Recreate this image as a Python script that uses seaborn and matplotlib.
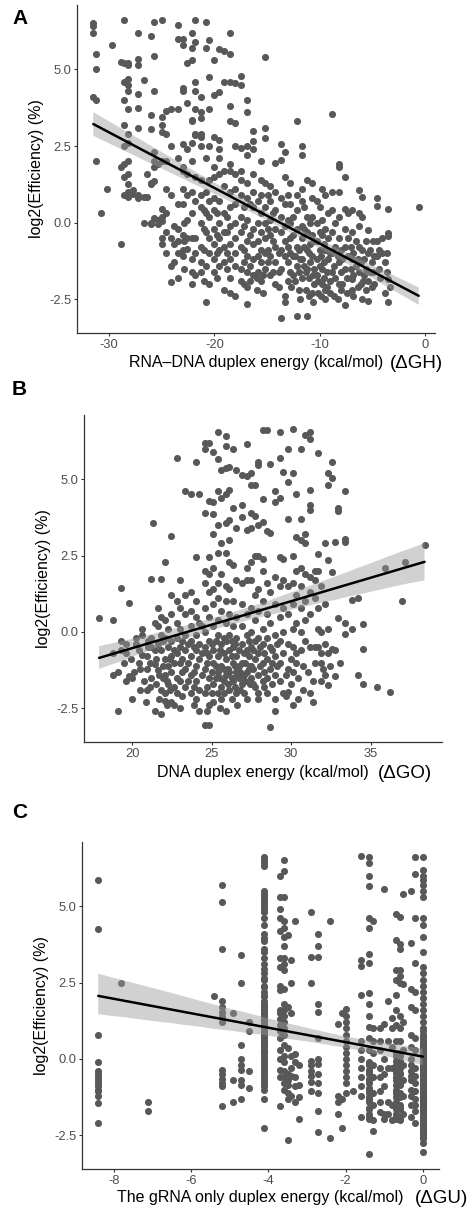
import matplotlib
matplotlib.use("Agg")
import matplotlib.pyplot as plt
from matplotlib.collections import PolyCollection
import seaborn as sns
import pandas as pd

# ---------------- data ----------------
A_groups = [
    (-31.5, [6.5, 6.4, 6.2, 4.1]),
    (-31.2, [5.5, 5.0, 4.0, 2.0]),
    (-30.8, [0.3]),
    (-30.2, [1.1]),
    (-29.7, [5.8]),
    (-28.9, [-0.7, 1.8, 5.25]),
    (-28.6, [6.6, 5.2, 4.6, 4.0, 3.2, 2.5, 1.9, 1.5, 0.9]),
    (-28.2, [5.2, 5.15, 4.7, 4.5, 4.3, 3.7, 2.9, 2.6, 2.0, 1.6, 1.25, 1.0, 0.85]),
    (-27.7, [1.05, 0.95]),
    (-27.3, [6.2, 5.35, 5.15, 4.2, 3.75, 3.1, 0.9, 0.8]),
    (-26.7, [4.65, 0.85, 0.0]),
    (-26.4, [1.6, 0.85]),
    (-26.0, [6.1, 3.5, 3.05, 1.3, 1.25, 0.0, -0.05]),
    (-25.7, [6.55, 5.45, 4.3, 2.3, 2.0, 1.8, 1.35, 0.15]),
    (-25.4, [1.9, 0.1, -0.05]),
    (-25.0, [6.6, 3.45, 3.2, 2.95, 2.0, 0.45, 0.2, 0.05, -0.5, -0.7]),
    (-24.6, [3.65, 2.9, 2.0, 1.1, 0.3, -0.3, -1.0]),
    (-24.1, [3.7, 2.5, 0.9, -0.5, -1.4, -1.95]),
    (-23.8, [-0.1, -0.7, -1.3]),
    (-23.5, [6.45, 6.0, 3.7, 2.1, 0.6, -0.2, -0.6, -1.0, -1.8]),
    (-23.0, [6.0, 5.8, 4.4, 4.3, 2.55, 1.8, 1.7, 1.1, 0.6, -0.4, -0.9, -1.1]),
    (-22.9, [0.0, -0.6, -1.5]),
    (-22.6, [5.2, 3.9, 2.4, 1.6, 0.9, 0.1, -0.5, -0.85]),
    (-22.1, [6.2, 5.7, 5.3, 3.35, 3.3, 2.6, 2.0, 1.0, 0.3, -0.5, -1.2, -1.6, -2.0]),
    (-21.8, [6.6, 5.9, 4.6, 4.3, 3.7, 2.9, 2.85, 1.5, 0.7, -0.5, -1.0, -1.7]),
    (-21.3, [4.1, 3.6, 3.4, 2.9, 2.8, 2.5, 1.4, 0.9, 0.5, 0.0, -0.8, -1.3, -1.6]),
    (-21.0, [0.4, -0.2, -0.9, -1.9]),
    (-20.8, [6.55, 5.7, 2.1, 1.0, 0.3, -0.3, -1.4, -2.6]),
    (-20.5, [5.95, 4.75, 3.7, 2.5, 1.4, 0.7, 0.2, -0.5, -1.0, -2.0]),
    (-20.0, [5.3, 4.15, 2.8, 1.8, 1.5, 0.8, 0.4, -0.2, -0.7, -1.2, -1.6]),
    (-19.8, [0.3, -0.4, -1.0, -1.8]),
    (-19.6, [5.65, 4.25, 2.7, 2.4, 2.1, 1.6, 0.7, 0.0, -0.5, -0.9, -1.4]),
    (-19.1, [5.6, 4.6, 1.7, 1.2, 0.3, -0.3, -0.8, -1.3, -2.2]),
    (-18.8, [0.2, -0.3, -1.0, -1.5]),
    (-18.5, [6.2, 5.5, 4.6, 3.8, 3.3, 1.9, 1.7, 1.0, 0.5, -0.1, -0.7, -1.2, -1.8, -2.3]),
    (-18.0, [4.55, 3.25, 2.5, 1.6, 1.1, 0.6, 0.0, -0.5, -1.0, -1.4, -2.4]),
    (-17.5, [4.8, 4.5, 2.45, 1.7, 1.4, 0.9, 0.2, -0.3, -0.8, -1.5, -1.9]),
    (-17.2, [0.5, -0.1, -0.9, -1.3, -2.0]),
    (-16.9, [4.0, 3.6, 2.5, 2.2, 1.3, 0.8, 0.1, -0.6, -1.1, -1.6, -2.1, -2.65]),
    (-16.6, [0.6, -0.4, -1.4, -1.9]),
    (-16.3, [3.0, 2.65, 2.4, 1.6, 1.0, 0.5, -0.2, -0.7, -1.2, -1.7]),
    (-16.0, [-1.8, -2.2]),
    (-15.9, [0.7, 0.0, -0.6, -1.1, -1.6]),
    (-15.6, [2.0, 1.4, 0.9, 0.3, -0.3, -0.9, -1.3, -1.9]),
    (-15.4, [-1.7, -2.3]),
    (-15.2, [5.4, 3.1, 2.75, 1.3, 0.5, 0.0, -0.5, -1.0, -1.5]),
    (-14.9, [0.9, -0.2, -0.9, -1.3]),
    (-14.7, [1.2, 0.7, 0.1, -0.4, -1.1, -1.7]),
    (-14.4, [0.3, -0.6, -1.6]),
    (-14.2, [1.95, 1.0, 0.4, -0.2, -0.8, -1.3, -2.0]),
    (-13.9, [-1.0, -1.6, -2.1]),
    (-13.7, [2.55, 2.05, 0.8, 0.2, -0.3, -0.9, -1.5, -3.1]),
    (-13.3, [2.3, 1.5, 0.6, -0.1, -0.6, -1.1, -2.4, -2.6]),
    (-13.0, [0.9, 0.1, -0.8, -1.3, -1.9]),
    (-12.8, [1.3, 0.6, 0.0, -0.5, -1.0, -1.6]),
    (-12.7, [-2.1]),
    (-12.5, [0.2, -0.4, -1.1, -1.7]),
    (-12.3, [-1.1, -1.9]),
    (-12.2, [3.3, 0.9, 0.4, -0.2, -0.8, -1.4, -3.05]),
    (-12.0, [-0.9, -1.6, -2.2]),
    (-11.9, [-1.2, -2.5]),
    (-11.7, [2.5, 2.2, 1.1, 0.7, -0.1, -0.5, -1.2, -1.8]),
    (-11.5, [0.5, -0.2, -0.8, -1.4]),
    (-11.3, [-1.6, -2.2]),
    (-11.2, [1.4, 0.2, -0.3, -0.9, -1.5, -3.05]),
    (-11.0, [-1.0, -1.8, -2.4]),
    (-10.9, [0.0, -0.7, -1.3]),
    (-10.7, [1.3, 0.8, 0.2, -0.4, -1.1, -2.3]),
    (-10.6, [-1.7, -2.6]),
    (-10.5, [-0.6, -1.5, -2.0]),
    (-10.3, [0.7, 0.0, -0.6, -1.2, -1.7]),
    (-10.2, [-1.9, -2.3]),
    (-10.0, [0.5, -0.3, -0.9, -1.4]),
    (-9.9, [-1.1, -2.4]),
    (-9.8, [1.1, 0.1, -0.4, -1.5, -2.0]),
    (-9.6, [-0.7, -1.3, -1.8]),
    (-9.5, [0.9, -0.2, -0.9, -2.2, -2.5]),
    (-9.3, [-1.6, -2.1]),
    (-9.2, [0.3, -0.5, -1.2]),
    (-9.0, [-1.0, -1.9, -2.3]),
    (-8.8, [3.55, 1.0, 0.4, -0.3, -1.0, -1.6]),
    (-8.6, [-1.4, -2.4]),
    (-8.5, [0.0, -0.8, -1.8]),
    (-8.3, [-1.1, -2.5]),
    (-8.2, [1.9, 1.8, 1.0, 0.2, -0.5, -1.3, -2.0]),
    (-8.0, [-0.9, -1.6, -2.2]),
    (-7.9, [-1.2, -2.0]),
    (-7.6, [1.5, 0.45, -0.2, -0.8, -1.5, -2.7]),
    (-7.4, [-1.8, -2.3]),
    (-7.3, [0.3, -0.5, -1.1]),
    (-7.0, [-0.8, -1.5]),
    (-6.9, [0.4, -0.3, -1.2, -1.85, -2.2]),
    (-6.8, [-1.0, -1.7, -2.4]),
    (-6.6, [-0.6, -1.4]),
    (-6.4, [-1.2, -2.1]),
    (-6.3, [1.05, 0.3, -0.1, -0.8, -1.6]),
    (-6.1, [-1.3, -2.0]),
    (-6.0, [0.85, 0.2, -0.9, -2.5]),
    (-5.9, [-1.9]),
    (-5.8, [-1.2, -1.7]),
    (-5.6, [-0.6, -1.5, -2.2]),
    (-5.4, [-0.25, -1.0, -1.9, -2.55]),
    (-5.2, [-0.9, -1.6]),
    (-5.0, [-1.3, -2.1]),
    (-4.9, [-0.6, -1.6]),
    (-4.8, [-1.1, -2.0]),
    (-4.6, [0.8, 0.55, -0.6, -1.1]),
    (-4.4, [-0.9, -1.5]),
    (-4.3, [-1.8]),
    (-4.1, [-0.5, -1.0]),
    (-3.8, [-1.3, -2.3]),
    (-3.6, [-1.0, -1.6]),
    (-3.5, [0.45, -0.45, -0.35, -1.85, -2.6]),
    (-3.3, [-2.1]),
    (-0.6, [0.5]),
]

B_groups = [
    (17.9, [0.47]),
    (18.8, [0.4, -0.7, -1.4]),
    (19.1, [-1.3, -2.6]),
    (19.3, [1.45, -0.3, -0.6]),
    (19.45, [-1.0]),
    (19.6, [-0.4, -0.7, -1.6]),
    (19.8, [0.95, -1.45]),
    (19.9, [-0.9]),
    (20.0, [-1.5, -2.2]),
    (20.1, [-1.3]),
    (20.25, [-0.2, -0.4]),
    (20.4, [-0.6, -1.0]),
    (20.5, [-1.2, -1.9]),
    (20.6, [0.1, -0.1, -0.75]),
    (20.75, [-1.6]),
    (20.85, [-2.3]),
    (20.9, [-0.8, -1.2, -1.9]),
    (21.0, [-0.3, -0.5]),
    (21.1, [-1.0, -1.8]),
    (21.2, [1.75, -0.2, -0.5, -1.5]),
    (21.3, [3.55]),
    (21.4, [0.3, -0.6, -1.05, -2.6]),
    (21.5, [-0.9, -1.7]),
    (21.6, [0.8, 0.2, -0.4, -1.25]),
    (21.7, [-1.4, -2.2]),
    (21.8, [1.75, 0.5, -0.1, -0.6, -1.9, -2.7]),
    (21.9, [-1.1, -1.5, -0.3]),
    (22.05, [2.3, 0.4, -0.2, -0.9, -1.4, -2.0, -2.25]),
    (22.15, [-1.6, -2.4]),
    (22.25, [0.1, -0.5, -1.1, -1.7]),
    (22.35, [-0.9, -1.9]),
    (22.45, [3.15, 1.2, 0.6, -0.3, -0.8, -1.3, -2.3]),
    (22.6, [-0.6, -1.0, -1.8, -2.4]),
    (22.8, [5.7, 1.0, 0.3, -0.2, -0.7, -1.5, -2.0]),
    (23.0, [1.7, 0.8, 0.1, -0.5, -1.0, -1.6, -2.5]),
    (23.15, [-0.3, -0.9, -1.3, -2.1]),
    (23.3, [4.6, 1.2, 0.6, -0.1, -0.6, -1.2, -1.8]),
    (23.5, [-0.4, -1.0, -1.6]),
    (23.7, [4.5, 1.3, 0.7, 0.2, -0.3, -0.8, -1.4, -2.0]),
    (23.9, [-0.5, -1.3, -1.8, -2.4]),
    (24.0, [5.55, 2.45, 1.0, 0.5, -0.1, -0.6, -1.1, -1.6, -2.2]),
    (24.2, [4.5, 0.3, -0.4, -0.9, -1.9, -2.6]),
    (24.4, [0.2, -0.7, -1.4]),
    (24.55, [6.2, 6.0, 3.9, 2.0, 1.6, 0.8, 0.0, -0.5, -1.2, -2.0, -3.05]),
    (24.7, [-0.7, -1.0, -1.8, -2.6]),
    (24.8, [6.2, 4.3, 2.45, 1.9, 1.3, 0.5, -0.3, -0.8, -1.5, -2.4, -3.05]),
    (25.0, [-0.4, -1.3, -2.0]),
    (25.1, [5.9, 4.25, 3.85, 3.2, 2.1, 1.4, 0.9, 0.2, -0.6, -1.0, -1.7, -2.3]),
    (25.25, [-0.3, -1.1, -1.5]),
    (25.4, [6.55, 5.65, 4.6, 3.5, 2.6, 1.6, 1.1, 0.4, -0.1, -0.8, -1.3, -2.0]),
    (25.5, [-0.6, -1.5, -2.5]),
    (25.6, [5.3, 4.4, 2.9, 1.9, 0.7, -0.4, -1.1, -1.8, -2.2]),
    (25.75, [-0.2, -0.7, -1.2, -1.6, -2.0]),
    (25.9, [6.4, 6.1, 5.35, 4.5, 3.55, 2.6, 1.5, 1.0, 0.3, -0.3, -0.9, -1.4, -2.6]),
    (26.0, [-1.2, -1.7]),
    (26.1, [5.4, 4.65, 3.65, 3.0, 2.3, 1.4, 0.6, -0.1, -0.6, -1.3, -1.9]),
    (26.25, [-0.3, -0.8, -1.5, -2.2]),
    (26.35, [6.0, 4.05, 2.2, 1.0, 0.2, -0.5, -1.0, -1.6]),
    (26.45, [-0.4, -1.1, -1.8]),
    (26.55, [5.3, 3.4, 1.7, 0.5, -0.2, -0.8, -1.3, -2.0]),
    (26.6, [-1.4, -2.4]),
    (26.7, [-0.6, -1.1, -1.5]),
    (26.8, [-1.3, -1.9]),
    (26.9, [5.15, 4.15, 3.75, 1.6, 0.9, 0.2, -0.4, -1.0, -1.7]),
    (27.05, [-0.7, -1.4, -2.0]),
    (27.1, [-1.0, -1.6]),
    (27.2, [6.15, 5.1, 3.35, 2.1, 1.7, 0.6, -0.1, -0.6, -1.3, -2.2]),
    (27.35, [-0.3, -0.8, -1.2]),
    (27.4, [-1.7, -1.1]),
    (27.5, [5.2, 4.8, 3.9, 3.4, 2.3, 1.7, 0.8, 0.0, -0.5, -1.1, -1.5]),
    (27.6, [-0.6, -1.2, -1.7]),
    (27.7, [4.8, 3.8, 2.5, 1.2, 0.4, -0.3, -0.9, -1.8]),
    (27.9, [5.45, 5.55, 3.5, 2.5, 1.4, 0.7, -0.2, -0.7, -1.4, -2.0, -2.2]),
    (28.05, [-0.5, -1.1]),
    (28.2, [6.6, 4.35, 3.6, 2.4, 2.0, 1.0, 0.1, -0.4, -1.0, -1.6]),
    (28.3, [-0.7, -1.3, -1.8]),
    (28.45, [6.6, 3.3, 1.6, 0.6, -0.2, -0.9, -1.5, -2.0]),
    (28.65, [5.5, 3.25, 1.3, 0.3, -0.5, -1.2, -3.1]),
    (28.8, [-0.6, -1.0, -1.7]),
    (28.95, [4.6, 4.25, 1.8, 0.9, -0.1, -0.8, -1.4, -2.2, -2.6]),
    (29.1, [-0.4, -1.1]),
    (29.3, [6.55, 5.7, 4.4, 2.45, 1.5, 0.5, -0.3, -1.0, -1.6]),
    (29.5, [5.25, 2.4, 1.7, 0.8, 0.0, -0.7, -2.0]),
    (29.65, [-1.4, -2.1]),
    (29.8, [6.0, 4.9, 3.7, 1.5, 0.6, -0.4, -1.2, -1.95]),
    (30.0, [-0.9, -1.7]),
    (30.1, [6.65, 5.2, 2.5, 1.6, 0.9, 0.1, -0.5, -1.3, -2.4]),
    (30.3, [4.5, 3.1, 2.0, 1.2, 0.3, -0.7, -1.0]),
    (30.45, [-1.5, -2.2]),
    (30.65, [6.0, 3.7, 3.0, 2.1, 1.5, 0.8, 0.0, -0.6]),
    (30.75, [-1.1, -1.9]),
    (30.85, [6.45, 3.2, 2.9, 1.9, 1.0, 0.4, -0.3]),
    (31.05, [-1.3]),
    (31.2, [6.55, 6.3, 4.65, 4.15, 4.0, 1.8, 1.3, 0.6, -0.5, -2.0]),
    (31.35, [-1.6, -2.3]),
    (31.5, [2.0, 1.7, 1.1, -0.5, -1.0]),
    (31.7, [5.85, 2.55, 2.0, 0.8, 0.1, -0.5]),
    (31.9, [1.5, 0.0, -0.7, -1.0, -1.6]),
    (32.0, [-1.2]),
    (32.1, [2.9, 0.9, -0.4, -1.4]),
    (32.3, [5.2, 4.8, 2.35, 0.1, -0.7, -1.75]),
    (32.45, [-1.1]),
    (32.55, [5.55, 5.05, 1.95, -0.55]),
    (32.75, [2.95, -0.6, -1.45]),
    (32.95, [4.05, 3.95, 0.45]),
    (33.1, [-1.0]),
    (33.4, [4.6, 2.95, 3.05, 0.3, -0.05]),
    (33.8, [1.05, 0.1]),
    (34.2, [1.1, -1.4]),
    (34.55, [0.25, -0.55, -1.7]),
    (35.4, [-1.8]),
    (35.9, [2.1]),
    (36.2, [-1.95]),
    (36.95, [1.0]),
    (37.15, [2.3]),
    (38.4, [2.85]),
]

C_groups = [
    (-8.4, [5.85, 4.25, 0.8, -0.1, -0.4, -0.5, -0.6, -0.7, -0.8, -0.9, -1.0, -1.05, -1.2, -1.45, -2.1]),
    (-7.8, [2.5]),
    (-7.1, [-1.4, -1.7]),
    (-5.4, [2.05]),
    (-5.2, [5.7, 5.15, 3.6, 1.9, 1.7, 1.55, 1.4, 1.2, -0.35, -0.5, -0.65, -0.8, -0.9, -1.55]),
    (-4.9, [1.5, -0.7, -1.4]),
    (-4.7, [3.4, 2.5, 0.45, 0.0, -0.2, -0.35, -0.7, -0.85, -1.3]),
    (-4.5, [1.2, 0.9, -0.4, -0.95]),
    (-4.1, [6.6, 6.5, 6.4, 6.3, 5.5, 5.4, 5.3, 5.2, 5.1, 5.0, 4.9, 4.8, 4.6, 4.4, 4.1,
            3.95, 3.85, 3.6, 3.5, 3.3, 3.1, 2.95, 2.8, 2.6, 2.4, 2.2, 2.05, 1.9, 1.8,
            1.7, 1.6, 1.5, 1.4, 1.3, 1.2, 1.1, 1.0, 0.9, 0.8, 0.7, 0.6, 0.5, 0.4, 0.3,
            0.2, 0.1, 0.0, -0.1, -0.2, -0.3, -0.4, -0.5, -0.6, -0.7, -0.8, -0.9, -1.0,
            -1.3, -2.25, 0.55, 0.85, 1.15, 1.45, 1.75, 2.05, 2.35, 2.65, 0.25, 0.75,
            1.25, 1.65]),
    (-3.7, [6.0, 5.3, 4.9, 4.6, 4.2, 3.3, 3.0, 2.4, 2.25, 1.6, 1.5, 1.3, 1.1, 0.9, 0.7,
            0.3, 0.0, -0.35, -0.6, -1.55]),
    (-3.6, [6.5, 6.15, 5.3, 4.5, 4.3, 4.0, 3.7, 3.3, 3.1, 2.9, 2.3, 1.8, 1.6, 1.4, 1.2,
            1.0, 0.8, 0.45, 0.1, -0.1, -0.4, -0.6, -0.8, -1.0]),
    (-3.5, [4.05, 1.7, 0.35, -0.5, -0.7, -0.85, -1.1, -1.3, -2.65]),
    (-3.4, [3.25, 2.5, 1.5, 0.1, -0.3, -0.55, -1.2]),
    (-3.3, [4.5, 0.15, -0.1, -0.6, -0.9, -1.4]),
    (-3.2, [-0.2, -0.85, -1.25, -1.95]),
    (-2.9, [4.8, 3.35, 2.5, -0.05, -0.2, -0.4, -0.55, -0.75, -1.05]),
    (-2.7, [4.1, 3.7, 3.35, 1.8, 1.55, 0.7, 0.0, -0.15, -0.5, -0.8, -1.1, -1.7, -2.4]),
    (-2.4, [4.5, -2.6]),
    (-2.2, [1.15, -1.2, -1.4, -1.8]),
    (-2.1, [1.5, -1.3, -2.25]),
    (-2.0, [1.65, 1.4, 1.2, 1.0, 0.8, 0.6, 0.4, 0.2, 0.0, -0.2, -0.4, -0.6, -0.8, -1.1]),
    (-1.8, [-1.05]),
    (-1.6, [6.65, 3.25, 3.05, 2.1, 0.6, 0.3, 0.0, -0.3, -0.6, -0.9, -1.2, -1.9]),
    (-1.4, [6.6, 6.4, 6.0, 5.65, 4.6, 4.3, 3.45, 3.15, 2.15, 1.8, 1.4, 1.05, 0.7, 0.3,
            -0.1, -0.4, -0.7, -1.0, -1.3, -1.6, -1.9, -3.1,
            -1.8, -1.4, -1.1, -0.8, -0.5, -0.2, -1.95, -1.65, -1.25, -0.95, -0.65,
            -0.35]),
    (-1.3, [4.5, 1.0, 0.6, 0.2, -0.2, -0.6, -1.1, -1.5, -2.0, -2.35]),
    (-1.1, [1.0, 0.6, 0.3, -0.3, -0.6, -1.05, -1.4, -1.75]),
    (-1.0, [5.55, 1.15, 0.0, -0.5, -0.9, -1.8, -1.95]),
    (-0.9, [1.9, 0.6, -0.3, -1.4, -1.8]),
    (-0.8, [1.35, 1.0, 0.4, -0.3, -1.5, -2.0]),
    (-0.7, [4.75, 3.9, 2.9, 2.6, 2.1, 1.6, 1.1, 0.6, 0.2, -0.2, -0.6, -1.0, -1.4, -1.8,
            -1.9, -1.5, -1.1, -0.7, -0.3, 0.1, -1.95, -1.65, -1.25, -0.85, -0.45,
            -0.05]),
    (-0.6, [4.65, 3.75, 3.6, 2.9, 2.7, 2.5, 1.4, 1.0, 0.6, 0.2, -0.2, -0.5, -0.8, -1.2,
            -1.6, -2.0, -1.9, -1.5, -1.1, -0.7, -0.3, 0.1, -1.95, -1.65, -1.25, -0.85,
            -0.45, -0.05]),
    (-0.5, [5.4, 2.45, 1.2, 0.3, -0.2, -0.7, -1.2, -1.8]),
    (-0.3, [5.5, 3.8, 2.3, 1.7, 0.8, 0.4, 0.0, -0.4, -0.7, -1.2, -1.5, -1.9,
            -1.0, -0.55, -0.2]),
    (-0.2, [6.6, 6.05, 4.6, 3.15, 2.2, 1.6, 0.7, 0.3, -0.3, -0.8, -1.3, -1.7, -2.1,
            -1.5, -1.05, -0.55]),
    (0.0, [6.6, 6.2, 6.0, 5.85, 5.7, 5.5, 5.3, 4.6, 4.4, 4.0, 3.5, 3.0, 2.8, 2.6, 2.4,
           2.2, 2.0, 1.8, 1.6, 1.4, 1.2, 1.0, 0.8, 0.6, 0.4, 0.2, 0.0, -0.2, -0.4, -0.6,
           -0.8, -1.0, -1.2, -1.4, -1.6, -1.8, -2.0, -2.2, -2.4, -2.6, -2.75, -3.05,
           -2.5, -2.3, -2.1, -1.9, -1.7, -1.5, -1.3, -1.1, -0.9, -0.7, -0.5, -0.3, -0.1,
           0.1, 0.3, 0.5, 0.7, 0.9, -2.45, -2.05, -1.65, -1.25, -0.85, -0.45, -0.05,
           0.35, 0.75, -1.95, -1.55, -1.15, -0.75, -0.35, 0.05, 0.45, -2.35, -1.85,
           -1.45, -1.05, -0.65, -0.25, 0.15, -2.15, -1.75, -1.35, -0.95, -0.55, -0.15,
           0.25,
           -2.55, -2.25, -1.95, -1.6, -1.3, -1.0, -0.7, -0.4, -2.4, -2.1, -1.8, -1.5,
           -1.2, -0.9, -0.6, -0.3, -2.5, -2.2, -1.9, -1.55, -1.25, -0.95, -0.65, -0.35,
           -2.35, -2.0, -1.7, -1.4, -1.1, -0.8, -0.5, -0.2, -2.6, -2.3, -2.0, -1.65,
           -1.35, -1.05, -0.75, -0.45]),
]

panel_letters = ["A", "B", "C"]
x_labels = ["RNA\u2013DNA duplex energy (kcal/mol)",
            "DNA duplex energy (kcal/mol)",
            "The gRNA only duplex energy (kcal/mol)"]
x_suffix = ["(\u0394GH)", "(\u0394GO)", "(\u0394GU)"]
y_label = "log2(Efficiency) (%)"
x_ticks = [[-30, -20, -10, 0], [20, 25, 30, 35], [-8, -6, -4, -2, 0]]
x_limits = [(-33.05, 0.95), (16.95, 39.5), (-8.82, 0.42)]
y_ticks = [-2.5, 0.0, 2.5, 5.0]
y_tick_labels = ["-2.5", "0.0", "2.5", "5.0"]
y_limits = (-3.6, 7.1)


def to_frame(groups):
    xs, ys = [], []
    for x, yl in groups:
        xs.extend([x] * len(yl))
        ys.extend(yl)
    return pd.DataFrame({"energy": xs, "eff": ys})


sns.set_style("ticks")
plt.rcParams["font.family"] = ["Liberation Sans", "DejaVu Sans"]

W, H = 469, 1209
fig = plt.figure(figsize=(W / 100, H / 100), dpi=100)

boxes = [(77, 5, 435, 333), (84, 415, 442, 742), (82, 842, 439, 1169)]
letter_pos = [(12, 19), (12, 390), (12, 812)]
xlabel_y = [-0.091, -0.092, -0.086]
suffix_x = [0.874, 0.822, 0.933]

for i, groups in enumerate([A_groups, B_groups, C_groups]):
    l, t, r, b = boxes[i]
    ax = fig.add_axes([l / W, 1 - b / H, (r - l) / W, (b - t) / H])
    df = to_frame(groups)
    sns.regplot(data=df, x="energy", y="eff", ax=ax, ci=95, seed=1,
                color="black",
                scatter_kws=dict(s=26, color="#585858", linewidths=0, alpha=1),
                line_kws=dict(color="black", lw=1.8))
    for coll in ax.collections:
        if isinstance(coll, PolyCollection):
            coll.set_facecolor("#999999")
            coll.set_alpha(0.45)
            coll.set_edgecolor("none")
    ax.set_xlim(*x_limits[i])
    ax.set_ylim(*y_limits)
    ax.set_xticks(x_ticks[i])
    ax.set_xticklabels([str(v) for v in x_ticks[i]])
    ax.set_yticks(y_ticks)
    ax.set_yticklabels(y_tick_labels)
    ax.tick_params(axis="both", labelsize=9.3, labelcolor="#4D4D4D",
                   color="#333333", length=2.5, width=0.8, pad=1.5)
    for s in ["top", "right"]:
        ax.spines[s].set_visible(False)
    for s in ["left", "bottom"]:
        ax.spines[s].set_color("#333333")
        ax.spines[s].set_linewidth(0.9)
    ax.set_xlabel("")
    ax.set_ylabel(y_label, fontsize=11.5, color="black", labelpad=4)
    ax.text(0.5, xlabel_y[i], x_labels[i], transform=ax.transAxes,
            ha="center", va="center", fontsize=11.5, color="black")
    ax.text(suffix_x[i], xlabel_y[i] - 0.003, x_suffix[i], transform=ax.transAxes,
            ha="left", va="center", fontsize=13.5, color="black")
    lx, ly = letter_pos[i]
    fig.text(lx / W, 1 - ly / H, panel_letters[i], ha="left", va="center",
             fontsize=15, fontweight="bold", color="black")

fig.savefig("out.png", dpi=100)
